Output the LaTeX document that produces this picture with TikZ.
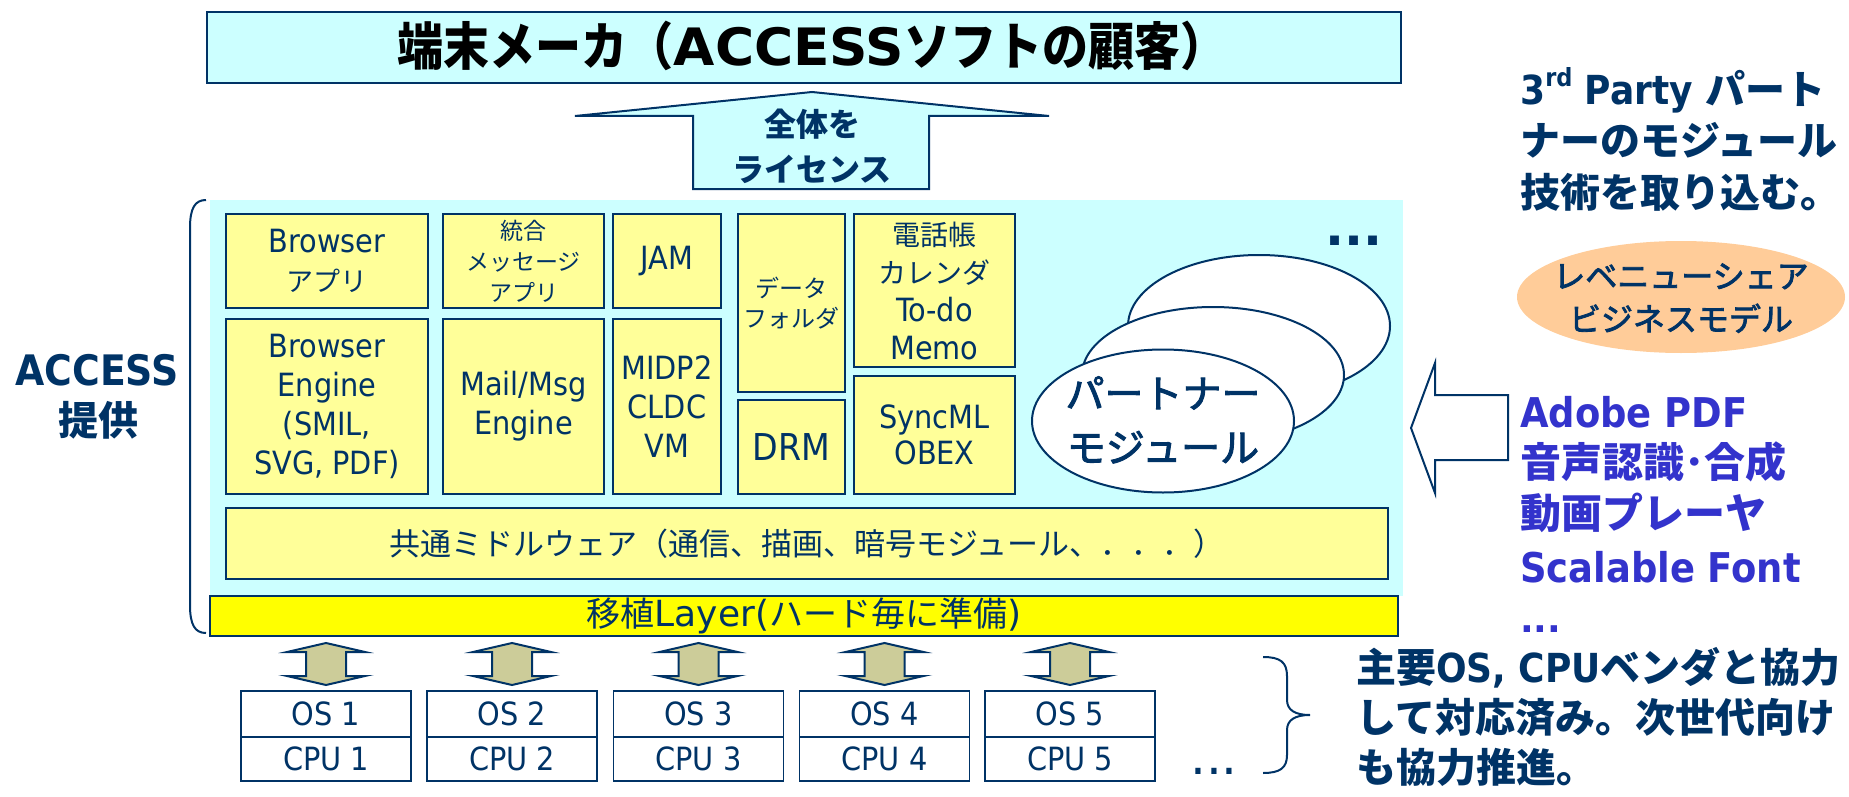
\documentclass[tikz,border=0pt]{standalone}
\usepackage{fontspec}
\usepackage{graphicx}
\usetikzlibrary{shapes.geometric}
\setmainfont{DejaVu Sans Condensed}
\newfontfamily\jp{Noto Sans CJK JP}
\newfontfamily\jpm{Noto Sans CJK JP}[FakeBold=2.5]
\newfontfamily\tah{DejaVu Sans Condensed}
\newfontfamily\dv{DejaVu Sans}
\definecolor{navy}{HTML}{003366}
\definecolor{cyanbg}{HTML}{CCFFFF}
\definecolor{lyel}{HTML}{FFFF99}
\definecolor{byel}{HTML}{FFFF00}
\definecolor{khaki}{HTML}{CCCC99}
\definecolor{peach}{HTML}{FFCC99}
\definecolor{bluet}{HTML}{3333CC}
\begin{document}
\begin{tikzpicture}[x=1pt,y=-1pt,line join=miter,
  ybox/.style={draw=navy,line width=2pt,fill=lyel,inner sep=0pt,align=center,text=navy,font=\tah\fontsize{32}{39}\selectfont},
  obox/.style={draw=navy,line width=1.5pt,fill=white,inner sep=0pt,minimum width=170pt,text=navy,font=\tah\fontsize{32}{39}\selectfont},
  pell/.style={ellipse,draw=navy,line width=2pt,fill=white,inner sep=0pt,minimum width=262pt},
  darr/.style={draw=navy,line width=2pt,fill=khaki},
  blk/.style={draw=navy,line width=2pt},
  rtxt/.style={anchor=base west,inner sep=0pt,text=navy,font=\fontsize{40}{40}\selectfont},
  btxt/.style={anchor=base west,inner sep=0pt,text=bluet,font=\fontsize{41}{41}\selectfont},
  ctxt/.style={anchor=base,inner sep=0pt,text=navy}]
\useasboundingbox (0,0) rectangle (1849,797);

% core area
\node[fill=cyanbg,minimum width=1193pt,minimum height=396pt,inner sep=0pt] (core) at (806.5,398) {};

% title
\node[draw=navy,line width=2pt,fill=cyanbg,minimum width=1194pt,minimum height=71pt,inner sep=0pt] (title) at (804,47.5) {};
\node[ctxt,text=black,font=\jp\bfseries\fontsize{46}{46}\selectfont] (titletext) at (812,66) {\scalebox{1}[1.12]{端末メーカ（\scalebox{1.16}[1]{\dv\bfseries ACCESS}ソフトの顧客）}};

% license arrow
\draw[blk,fill=cyanbg] (693,189) -- (693,116) -- (575,116) -- (812,92) -- (1049,116) -- (929,116) -- (929,189) -- cycle;
\node[ctxt,font=\jp\bfseries\fontsize{32}{32}\selectfont] (lic1) at (812,136) {全体を};
\node[ctxt,font=\jp\bfseries\fontsize{32}{32}\selectfont] (lic2) at (812,181) {ライセンス};

% left brace and label
\draw[navy,line width=2pt] (206,200) .. controls (195,200) and (190,208) .. (190,228) -- (190,605) .. controls (190,625) and (195,633) .. (206,633);
\node[ctxt,font=\tah\bfseries\fontsize{42}{42}\selectfont] (acc) at (97,385) {ACCESS};
\node[ctxt,font=\jp\bfseries\fontsize{40}{40}\selectfont] (teikyo) at (98,435) {提供};

% module boxes
\node[ybox,minimum width=202pt,minimum height=94pt] (bapp) at (327,261) {Browser\\{\jp\fontsize{27}{39}\selectfont アプリ}};
\node[ybox,minimum width=161pt,minimum height=94pt,font=\jp\fontsize{23}{31}\selectfont] (msgapp) at (523.5,261) {統合\\メッセージ\\アプリ};
\node[ybox,minimum width=108pt,minimum height=94pt] (jam) at (667,261) {JAM};
\node[ybox,minimum width=107pt,minimum height=178pt,font=\jp\fontsize{24}{30}\selectfont] (data) at (791.5,303) {データ\\フォルダ};
\node[ybox,minimum width=161pt,minimum height=153pt,font=\tah\fontsize{32}{38}\selectfont] (tel) at (934.5,290.5) {{\jp\fontsize{28}{38}\selectfont 電話帳}\\{\jp\fontsize{28}{38}\selectfont カレンダ}\\To-do\\Memo};
\node[ybox,minimum width=202pt,minimum height=175pt] (beng) at (327,406.5) {Browser\\Engine\\(SMIL,\\SVG, PDF)};
\node[ybox,minimum width=161pt,minimum height=175pt] (mail) at (523.5,406.5) {Mail/Msg\\Engine};
\node[ybox,minimum width=108pt,minimum height=175pt] (midp) at (667,406.5) {MIDP2\\CLDC\\VM};
\node[ybox,minimum width=107pt,minimum height=94pt,font=\tah\fontsize{37}{39}\selectfont] (drm) at (791.5,447) {DRM};
\node[ybox,minimum width=161pt,minimum height=118pt,font=\tah\fontsize{32}{36}\selectfont] (sync) at (934.5,435) {SyncML\\OBEX};

% dots in core
\node[ctxt,font=\dv\bfseries\fontsize{50}{50}\selectfont] (cdots) at (1354,245) {...};

% partner ellipses
\node[pell,minimum height=142pt] (e3) at (1259,326) {};
\node[pell,minimum height=136pt] (e2) at (1213,375) {};
\node[pell,minimum height=143pt] (e1) at (1163,421) {};
\node[ctxt,font=\jpm\fontsize{39}{39}\selectfont] (pm1) at (1163,408) {パートナー};
\node[ctxt,font=\jpm\fontsize{39}{39}\selectfont] (pm2) at (1163,462) {モジュール};

% middleware
\node[ybox,minimum width=1162pt,minimum height=71pt,font=\jp\fontsize{31}{31}\selectfont] (mid) at (807,543.5) {共通ミドルウェア（通信、描画、暗号モジュール、．．．）};

% porting layer
\node[ybox,fill=byel,minimum width=1188pt,minimum height=40pt,font=\jp\fontsize{34}{34}\selectfont] (layer) at (804,616) {移植{\dv\fontsize{36}{36}\selectfont Layer(}ハード毎に準備{\dv\fontsize{36}{36}\selectfont )}};

% OS / CPU
\foreach \i/\cx in {1/326,2/512,3/698.5,4/884.5,5/1070}{
  \node[obox,minimum height=46pt] (os\i) at (\cx,714) {OS \i};
  \node[obox,minimum height=44pt] (cpu\i) at (\cx,759) {CPU \i};
  \draw[darr] (\cx,643) -- ++(39,9) -- ++(-19,0) -- ++(0,24) -- ++(19,0) -- (\cx,685) -- ++(-39,-9) -- ++(19,0) -- ++(0,-24) -- ++(-19,0) -- cycle;
}
\node[ctxt,font=\dv\fontsize{50}{50}\selectfont] (odots) at (1214,774) {...};

% right brace
\draw[navy,line width=2pt] (1263,657) .. controls (1280,657) and (1287,662) .. (1287,676) -- (1287,700) .. controls (1287,710) and (1295,715) .. (1310,715) .. controls (1295,715) and (1287,720) .. (1287,730) -- (1287,755) .. controls (1287,768) and (1280,773) .. (1263,773);

% right top text
\node[rtxt] (r1) at (1520,105) {{\tah\bfseries 3\raisebox{0.45em}{\fontsize{25}{25}\selectfont rd} Party }{\jp\bfseries パート}};
\node[rtxt,font=\jp\bfseries\fontsize{40}{40}\selectfont] (r2) at (1520,156) {ナーのモジュール};
\node[rtxt,font=\jp\bfseries\fontsize{40}{40}\selectfont] (r3) at (1520,207) {技術を取り込む。};

% revenue share ellipse
\node[ellipse,fill=peach,minimum width=328pt,minimum height=112pt,inner sep=0pt] (rev) at (1681,297) {};
\node[ctxt,font=\jpm\fontsize{32}{32}\selectfont] (rev1) at (1681,288) {レベニューシェア};
\node[ctxt,font=\jpm\fontsize{32}{32}\selectfont] (rev2) at (1681,331) {ビジネスモデル};

% left arrow
\draw[blk,fill=white] (1411,428) -- (1435,363) -- (1435,395) -- (1508,395) -- (1508,460) -- (1435,460) -- (1435,493) -- cycle;

% blue list
\node[btxt,font=\tah\bfseries\fontsize{41}{41}\selectfont] (b1) at (1520,427) {Adobe PDF};
\node[btxt,font=\jp\bfseries\fontsize{41}{41}\selectfont] (b2) at (1520,477) {音声認識･合成};
\node[btxt,font=\jp\bfseries\fontsize{41}{41}\selectfont] (b3) at (1520,528) {動画プレーヤ};
\node[btxt,font=\tah\bfseries\fontsize{41}{41}\selectfont] (b4) at (1520,582) {Scalable Font};
\node[btxt,font=\dv\bfseries\fontsize{36}{36}\selectfont] (b5) at (1520,632) {...};

% bottom right text
\node[rtxt] (s1) at (1356,682) {{\jp\bfseries 主要}{\tah\bfseries OS, CPU}{\jp\bfseries ベンダと協力}};
\node[rtxt,font=\jp\bfseries\fontsize{40}{40}\selectfont] (s2) at (1356,732) {して対応済み。次世代向け};
\node[rtxt,font=\jp\bfseries\fontsize{40}{40}\selectfont] (s3) at (1356,782) {も協力推進。};
\end{tikzpicture}
\end{document}
